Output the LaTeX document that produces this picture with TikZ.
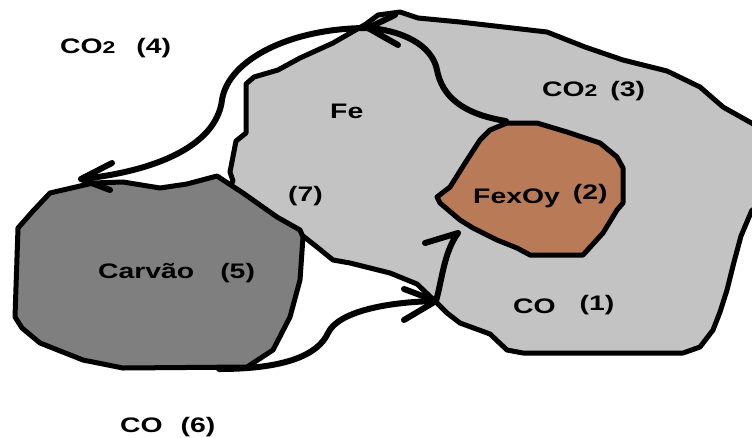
\documentclass[tikz,border=0pt]{standalone}
\usepackage{fontspec}
\newfontfamily\lblfont[FakeStretch=1.35]{Liberation Sans}
\definecolor{oregray}{HTML}{C3C3C3}
\definecolor{coalgray}{HTML}{7F7F7F}
\definecolor{oxide}{HTML}{B97A57}
\tikzset{
  region/.style={draw=black, line width=5pt, line join=round},
  flow/.style={draw=black, line width=6pt, line cap=round, line join=round},
  lbl/.style={inner sep=0pt, anchor=base west, text=black,
              font=\lblfont\bfseries\fontsize{21}{25}\selectfont},
}
\newcommand{\lowdigit}[1]{{\fontsize{17}{19}\selectfont #1}}
\begin{document}
\begin{tikzpicture}[x=1pt, y=-1pt]
  \useasboundingbox (0,0) rectangle (752,437);
  \clip (0,0) rectangle (752,437);

  % ore region (light gray)
  \path[region, fill=oregray]
    (233,181) -- (230,172) -- (236,141) -- (246,133) -- (246,84) -- (254,77)
    -- (278,70) -- (300,58) -- (333,43) -- (366,24) -- (378,15) -- (400,12)
    -- (418,18) -- (460,22) -- (547,32) -- (585,47) -- (623,60) -- (667,71)
    -- (700,87) -- (723,107) -- (755,125) -- (775,125) -- (775,208)
    -- (752,210) -- (741,236) -- (734,262) -- (727,290) -- (720,312)
    -- (713,330) -- (700,347) -- (683,353) -- (523,353) -- (507,350)
    -- (490,334) -- (460,323) -- (447,313) -- (437,303) -- (417,284)
    -- (390,273) -- (350,263) -- (333,260) -- (317,247) -- (303,236)
    -- (260,240) -- (222,200) -- cycle;

  % iron oxide lump
  \path[region, fill=oxide]
    (507,123) -- (537,123) -- (567,132) -- (600,143) -- (617,157) -- (623,168)
    -- (623,203) -- (617,210) -- (603,233) -- (583,255) -- (530,255)
    -- (517,248) -- (497,240) -- (473,228) -- (460,220) -- (440,203)
    -- (437,197) -- (450,187) -- (467,160) -- (480,140) -- (490,130) -- cycle;

  % charcoal lump
  \path[region, fill=coalgray]
    (217,176) -- (187,184) -- (160,188) -- (123,182) -- (93,183) -- (50,193)
    -- (33,211) -- (18,228) -- (15,317) -- (22,328) -- (40,343) -- (83,360)
    -- (123,368) -- (247,367) -- (273,350) -- (290,317) -- (300,280)
    -- (303,237) -- (300,230) -- (277,217) -- (243,193) -- cycle;

  % flow anchors
  \coordinate (oxTop) at (506,121);
  \coordinate (tipA) at (368,28);
  \coordinate (tipB) at (81,179);
  \coordinate (coalBot) at (219,369);
  \coordinate (tipC) at (436,301);
  \coordinate (tipD) at (458,233);

  % CO2 leaving the oxide
  \draw[flow] (oxTop) .. controls (462,114) and (442,96) .. (437,70)
                      .. controls (432,44) and (400,30) .. (tipA);
  \draw[flow] (398,45) -- (tipA) -- (395,15);

  % CO2 going back to the charcoal
  \draw[flow] (tipA) .. controls (290,28) and (228,60) .. (222,100)
                     .. controls (216,148) and (150,172) .. (tipB);
  \draw[flow] (112,163) -- (tipB) -- (110,190);

  % CO coming out of the charcoal
  \draw[flow] (coalBot) .. controls (285,369) and (318,355) .. (328,333)
                        .. controls (338,312) and (385,302) .. (tipC);
  \draw[flow] (404,289) -- (tipC) -- (404,320);

  % CO reaching the oxide
  \draw[flow] (tipC) .. controls (442,280) and (444,252) .. (tipD) -- (425,243);

  % labels
  \node[lbl] (lco2out) at (60,53) {CO\lowdigit{2}\hspace{21pt}(4)};
  \node[lbl] (lfe) at (330,118) {Fe};
  \node[lbl] (lco2in) at (542,96) {CO\lowdigit{2}\hspace{13pt}(3)};
  \node[lbl] (lseven) at (288,201) {(7)};
  \node[lbl] (loxide) at (473,203) {FexOy\hspace{13pt}\raisebox{4pt}{(2)}};
  \node[lbl] (lcoal) at (98,278) {Carvão\hspace{26pt}(5)};
  \node[lbl] (lcoin) at (513,313) {CO\hspace{24pt}\raisebox{3pt}{(1)}};
  \node[lbl] (lcoout) at (120,432) {CO\hspace{18pt}(6)};
\end{tikzpicture}
\end{document}
